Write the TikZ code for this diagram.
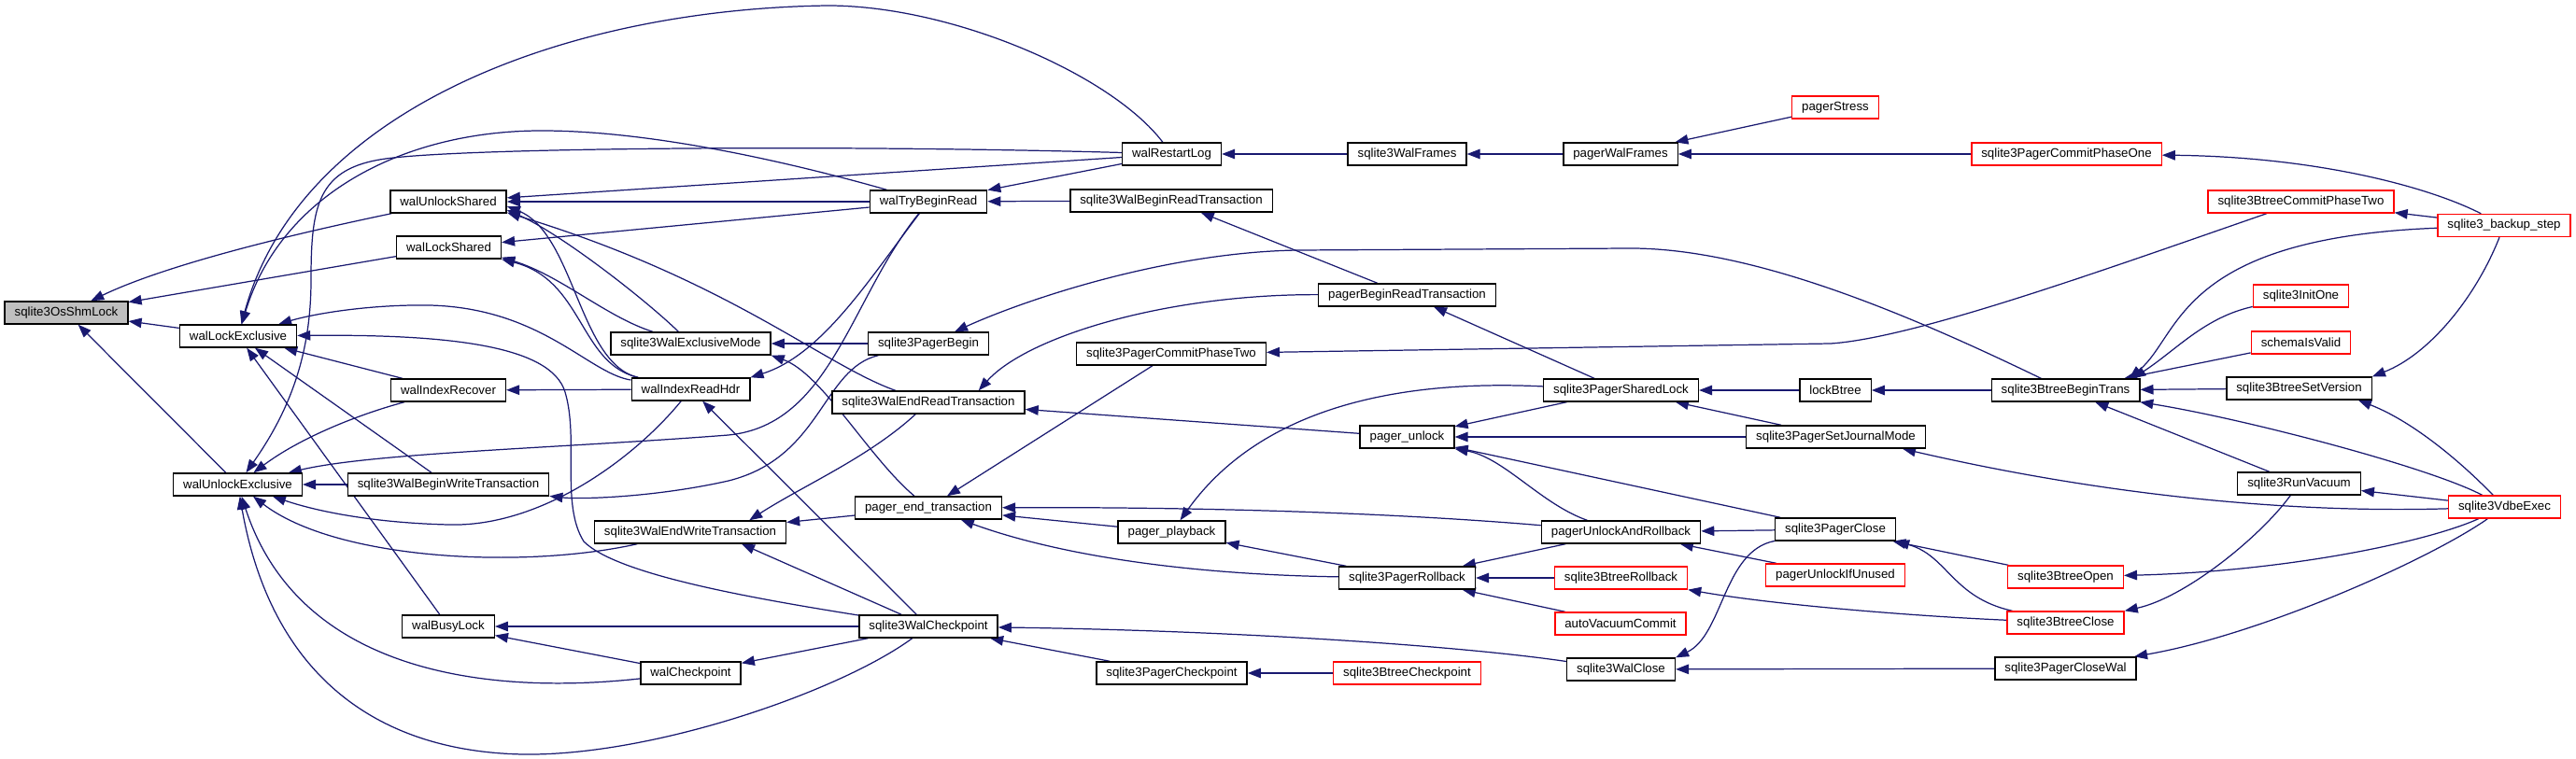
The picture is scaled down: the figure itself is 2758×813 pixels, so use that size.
\documentclass[tikz,border=0pt]{standalone}
\usepackage{fontspec}
\newfontfamily\lsans{Liberation Sans}
\usetikzlibrary{arrows.meta,calc,backgrounds}
\definecolor{navy}{HTML}{191970}
\definecolor{shgray}{HTML}{BFBFBF}
\begin{document}
\begin{tikzpicture}[x=0.02cm,y=-0.02cm,
  fn/.style={draw=black, fill=white, line width=0.8pt, inner xsep=0.21cm, inner ysep=0pt,
    minimum height=0.48cm, font={\lsans\fontsize{7.56pt}{9pt}\selectfont}},
  fnred/.style={fn, draw=red},
  cg/.style={draw=navy, line width=0.7pt, -{Triangle[length=0.28cm,width=0.21cm]}}]
\useasboundingbox (0,0) rectangle (2758,813);
% ---- nodes ----
\node[fn, fill=shgray] (osshm) at (71,335) {sqlite3OsShmLock};
\node[fn] (ulsh) at (480,216) {walUnlockShared};
\node[fn] (lsh) at (480.5,265) {walLockShared};
\node[fn] (lex) at (255,360) {walLockExclusive};
\node[fn] (irec) at (480,418) {walIndexRecover};
\node[fn] (ulex) at (254.5,519) {walUnlockExclusive};
\node[fn] (bwt) at (480,519) {sqlite3WalBeginWriteTransaction};
\node[fn] (busy) at (480,671) {walBusyLock};
\node[fn] (exm) at (739.5,368) {sqlite3WalExclusiveMode};
\node[fn] (rhdr) at (739.5,417) {walIndexReadHdr};
\node[fn] (ewt) at (739,570) {sqlite3WalEndWriteTransaction};
\node[fn] (wck) at (739.5,721) {walCheckpoint};
\node[fn] (rlog) at (1254.5,165) {walRestartLog};
\node[fn] (tbr) at (994,216) {walTryBeginRead};
\node[fn] (brt) at (1254,215) {sqlite3WalBeginReadTransaction};
\node[fn] (pbeg) at (994,368) {sqlite3PagerBegin};
\node[fn] (pc2) at (1254,379) {sqlite3PagerCommitPhaseTwo};
\node[fn] (ert) at (994,431) {sqlite3WalEndReadTransaction};
\node[fn] (pet) at (994,544) {pager\_end\_transaction};
\node[fn] (ppb) at (1254.5,570) {pager\_playback};
\node[fn] (swck) at (994,671) {sqlite3WalCheckpoint};
\node[fn] (pck) at (1254.5,721) {sqlite3PagerCheckpoint};
\node[fnred] (pst) at (1965,115) {pagerStress};
\node[fn] (wfr) at (1506.5,165) {sqlite3WalFrames};
\node[fn] (pwf) at (1735,165) {pagerWalFrames};
\node[fn] (pbrt) at (1506.5,316) {pagerBeginReadTransaction};
\node[fn] (psl) at (1735.5,418) {sqlite3PagerSharedLock};
\node[fn] (lbt) at (1965,418) {lockBtree};
\node[fn] (pul) at (1506.5,468) {pager\_unlock};
\node[fn] (psjm) at (1965.5,468) {sqlite3PagerSetJournalMode};
\node[fn] (puar) at (1735.5,570) {pagerUnlockAndRollback};
\node[fn] (pcl) at (1965,567) {sqlite3PagerClose};
\node[fnred] (puiu) at (1965,616) {pagerUnlockIfUnused};
\node[fn] (prb) at (1506.5,619) {sqlite3PagerRollback};
\node[fnred] (brb) at (1735.5,619) {sqlite3BtreeRollback};
\node[fnred] (avc) at (1735,668) {autoVacuumCommit};
\node[fn] (wcl) at (1735.5,717) {sqlite3WalClose};
\node[fnred] (bck) at (1506.5,721) {sqlite3BtreeCheckpoint};
\node[fnred] (pc1) at (2212.5,165) {sqlite3PagerCommitPhaseOne};
\node[fnred] (bc2) at (2463.5,216) {sqlite3BtreeCommitPhaseTwo};
\node[fnred] (bks) at (2681,241.5) {sqlite3\_backup\_step};
\node[fnred] (ini) at (2463.5,317) {sqlite3InitOne};
\node[fnred] (siv) at (2463.5,367) {schemaIsValid};
\node[fn] (bbt) at (2211.5,418) {sqlite3BtreeBeginTrans};
\node[fn] (bsv) at (2461.5,416) {sqlite3BtreeSetVersion};
\node[fn] (rvac) at (2461.5,518) {sqlite3RunVacuum};
\node[fnred] (vdbe) at (2681.5,543) {sqlite3VdbeExec};
\node[fnred] (bop) at (2211.5,618) {sqlite3BtreeOpen};
\node[fnred] (bcl) at (2211.5,667) {sqlite3BtreeClose};
\node[fn] (pcw) at (2211.5,716) {sqlite3PagerCloseWal};
% ---- edges ----
\begin{pgfonlayer}{background}
\fill[white] (0,0) rectangle (2758,813);
% sqlite3OsShmLock
\draw[cg] (ulsh) .. controls (260,262) and (160,292) .. (osshm);
\draw[cg] (lsh) -- (osshm);
\draw[cg] (lex) -- (osshm);
\draw[cg] (ulex) -- (osshm);
% walLockExclusive
\draw[cg] (rlog) .. controls (1190,80) and (1020,6) .. (886,6) .. controls (600,10) and (320,120) .. (lex);
\draw[cg] (tbr) .. controls (850,175) and (700,140) .. (580,140) .. controls (430,140) and (300,210) .. (lex);
\draw[cg] (rhdr) .. controls (630,400) and (580,330) .. (460,327) .. controls (400,326) and (340,335) .. (lex);
\draw[cg] (swck) .. controls (800,640) and (660,615) .. (625,580) .. controls (600,540) and (620,470) .. (605,420) .. controls (590,370) and (480,358) .. (lex);
\draw[cg] (irec) -- (lex);
\draw[cg] (bwt) -- (lex);
\draw[cg] (busy) -- (lex);
% walUnlockExclusive
\draw[cg] (rlog) .. controls (900,155) and (500,158) .. (413,170) .. controls (340,180) and (333,220) .. (333,300) .. controls (333,380) and (310,440) .. (ulex);
\draw[cg] (irec) .. controls (380,445) and (320,470) .. (ulex);
\draw[cg] (tbr) .. controls (910,320) and (890,455) .. (780,466) .. controls (600,480) and (400,485) .. (ulex);
\draw[cg] (bwt) -- (ulex);
\draw[cg] (rhdr) .. controls (680,490) and (580,565) .. (480,562) .. controls (400,560) and (340,548) .. (ulex);
\draw[cg] (ewt) .. controls (560,610) and (360,600) .. (ulex);
\draw[cg] (wck) .. controls (520,745) and (320,720) .. (ulex);
\draw[cg] (swck) .. controls (900,740) and (700,810) .. (560,808) .. controls (400,805) and (290,720) .. (ulex);
% walUnlockShared
\draw[cg] (rlog) -- (ulsh);
\draw[cg] (tbr) -- (ulsh);
\draw[cg] (rhdr) .. controls (620,390) and (615,250) .. ($(ulsh.east)+(0,5)$);
\draw[cg] (exm) .. controls (690,320) and (600,250) .. ($(ulsh.east)+(0,9)$);
\draw[cg] (ert) .. controls (880,390) and (780,300) .. ($(ulsh.south east)+(0,-1)$);
% walLockShared
\draw[cg] (tbr) -- (lsh);
\draw[cg] (rhdr) .. controls (620,390) and (625,300) .. (lsh.south east);
\draw[cg] (exm) .. controls (650,340) and (600,295) .. ($(lsh.south east)+(0,-2)$);
% sqlite3WalExclusiveMode
\draw[cg] (pbeg) -- (exm);
\draw[cg] (pet) .. controls (930,490) and (880,400) .. (exm.south east);
% walIndexReadHdr
\draw[cg] (tbr) .. controls (930,300) and (880,380) .. (rhdr.north east);
\draw[cg] (swck) -- (rhdr);
\draw[cg] (rhdr) -- (irec);
% walBusyLock, walCheckpoint
\draw[cg] (swck) -- (busy);
\draw[cg] (wck) -- (busy);
\draw[cg] (swck) -- (wck);
% sqlite3WalEndWriteTransaction
\draw[cg] (pet) -- (ewt);
\draw[cg] (ert) .. controls (930,490) and (860,520) .. ($(ewt.north east)+(-40,0)$);
\draw[cg] (swck) -- ($(ewt.south)+(55,0)$);
% sqlite3WalBeginWriteTransaction
\draw[cg] (pbeg) .. controls (880,395) and (880,490) .. (780,515) .. controls (700,533) and (620,535) .. (bwt);
% upper chain
\draw[cg] (wfr) -- (rlog);
\draw[cg] (rlog) -- (tbr);
\draw[cg] (brt) -- (tbr);
\draw[cg] (pwf) -- (wfr);
\draw[cg] (pst) -- (pwf);
\draw[cg] (pc1) -- (pwf);
\draw[cg] (bks) .. controls (2600,200) and (2480,168) .. (pc1);
\draw[cg] (pbrt) -- (brt);
\draw[cg] (bbt) .. controls (2050,340) and (1880,266) .. (1746,266) -- (1390,268) .. controls (1250,270) and (1100,320) .. (pbeg);
\draw[cg] (bc2) .. controls (2250,290) and (2050,362) .. (1960,368) -- (pc2);
% sqlite3WalEndReadTransaction
\draw[cg] (pul) -- (ert);
\draw[cg] (pbrt) .. controls (1250,315) and (1100,360) .. ($(ert.north east)+(-50,0)$);
% pager_end_transaction
\draw[cg] (pc2) -- (pet);
\draw[cg] (ppb) -- (pet);
\draw[cg] (puar) .. controls (1500,550) and (1300,543) .. (pet);
\draw[cg] (prb) .. controls (1250,615) and (1120,590) .. (pet);
% pager_playback
\draw[cg] (psl) .. controls (1470,405) and (1340,450) .. (ppb);
\draw[cg] (prb) -- (ppb);
% sqlite3WalCheckpoint
\draw[cg] (wcl) .. controls (1550,690) and (1300,675) .. (swck);
\draw[cg] (pck) -- (swck);
\draw[cg] (bck) -- (pck);
% pager layer
\draw[cg] (psl) -- (pbrt);
\draw[cg] (lbt) -- (psl);
\draw[cg] (psjm) -- (psl);
\draw[cg] (bbt) -- (lbt);
\draw[cg] (psl) -- (pul);
\draw[cg] (psjm) -- (pul);
\draw[cg] (pcl) -- (pul);
\draw[cg] (puar) .. controls (1650,540) and (1610,490) .. (pul.south east);
\draw[cg] (vdbe) .. controls (2450,550) and (2250,530) .. ($(psjm.south east)+(-25,0)$);
\draw[cg] (pcl) -- (puar);
\draw[cg] (puiu) -- (puar);
\draw[cg] (puar) -- (prb);
\draw[cg] (brb) -- (prb);
\draw[cg] (avc) -- (prb);
\draw[cg] (bcl) .. controls (2050,660) and (1900,648) .. (brb);
\draw[cg] (pcl) .. controls (1845,590) and (1845,680) .. (wcl.north east);
\draw[cg] (pcw) -- (wcl);
\draw[cg] (bop) -- (pcl);
\draw[cg] (bcl) .. controls (2090,640) and (2085,595) .. (pcl.south east);
% btree layer
\draw[cg] (bks) -- (bc2);
\draw[cg] (bks) .. controls (2330,255) and (2335,360) .. ($(bbt.north east)+(-12,0)$);
\draw[cg] (ini) .. controls (2360,340) and (2330,375) .. ($(bbt.north east)+(-8,0)$);
\draw[cg] (siv) -- (bbt);
\draw[cg] (bsv) -- (bbt);
\draw[cg] (vdbe) .. controls (2600,500) and (2400,448) .. (bbt);
\draw[cg] (rvac) -- (bbt);
\draw[cg] (bks) .. controls (2650,320) and (2600,380) .. (bsv.north east);
\draw[cg] (vdbe) .. controls (2630,490) and (2580,450) .. ($(bsv.south east)+(-15,0)$);
\draw[cg] (vdbe) -- (rvac);
\draw[cg] (vdbe) .. controls (2600,580) and (2450,612) .. (bop);
\draw[cg] (rvac) .. controls (2420,575) and (2340,640) .. (bcl.north east);
\draw[cg] (vdbe) .. controls (2600,600) and (2420,680) .. (pcw);
\end{pgfonlayer}
\end{tikzpicture}
\end{document}
